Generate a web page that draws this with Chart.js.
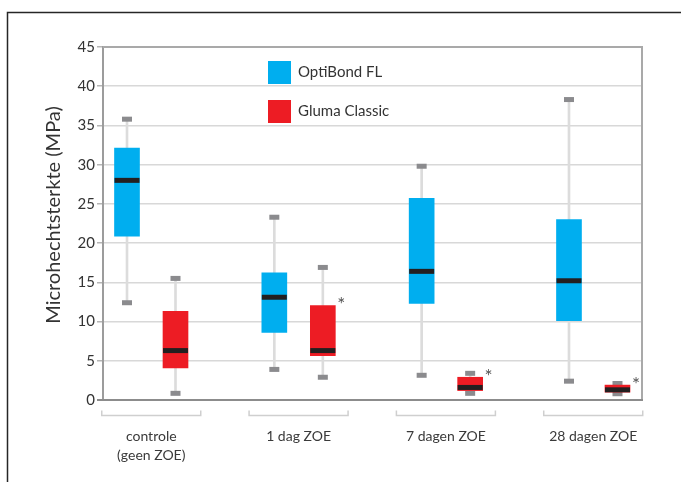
<!DOCTYPE html>
<html><head><meta charset="utf-8">
<script src="https://cdn.jsdelivr.net/npm/chart.js@4/dist/chart.umd.min.js"></script>
<style>html,body{margin:0;padding:0;background:#fff}#wrap{width:681px;height:482px;position:relative}</style>
</head><body><div id="wrap"><canvas id="c" width="681" height="482"></canvas></div>
<script>
// ---- data ----
const categories = [['controle', '(geen ZOE)'], '1 dag ZOE', '7 dagen ZOE', '28 dagen ZOE'];
const seriesNames = ['OptiBond FL', 'Gluma Classic'];
const yTickValues = [0, 5, 10, 15, 20, 25, 30, 35, 40, 45];
const yAxisTitle = 'Microhechtsterkte (MPa)';
// OptiBond FL
const optiMin = [12.4, 3.9, 3.15, 2.4];
const optiQ1 = [20.9, 8.6, 12.3, 10.1];
const optiMedian = [28.0, 13.1, 16.4, 15.2];
const optiQ3 = [32.1, 16.2, 25.7, 23.0];
const optiMax = [35.8, 23.3, 29.8, 38.3];
// Gluma Classic
const glumaMin = [0.85, 2.9, 0.85, 0.8];
const glumaQ1 = [4.1, 5.65, 1.2, 1.0];
const glumaMedian = [6.3, 6.3, 1.6, 1.3];
const glumaQ3 = [11.3, 12.05, 2.9, 1.9];
const glumaMax = [15.5, 16.9, 3.4, 2.1];
const glumaSignificant = [false, true, true, true];

// ---- styling / layout ----
const BLUE = '#00aeef', RED = '#ed1c24', MEDIAN = '#231f20', CAP = '#8b8b8e', WHISKER = '#dcdcdc';
const OFFSET = 0.1646;
const FONT = 'Lato, "Open Sans", sans-serif';

function pts(arr, off) { return arr.map((v, i) => ({ x: i + off, y: v })); }
function rng(lo, hi, off) { return lo.map((v, i) => ({ x: i + off, y: [v, hi[i]] })); }

const datasets = [
  // medians (top-most)
  { type: 'scatter', label: 'medianO', data: pts(optiMedian, -OFFSET), pointStyle: 'line', pointRadius: 12.5, pointBorderWidth: 5, pointBorderColor: MEDIAN, pointBackgroundColor: MEDIAN, order: 0 },
  { type: 'scatter', label: 'medianG', data: pts(glumaMedian, OFFSET), pointStyle: 'line', pointRadius: 12.5, pointBorderWidth: 5, pointBorderColor: MEDIAN, pointBackgroundColor: MEDIAN, order: 0 },
  // boxes
  { type: 'bar', label: seriesNames[0], data: rng(optiQ1, optiQ3, -OFFSET), backgroundColor: BLUE, barThickness: 25, grouped: false, order: 1 },
  { type: 'bar', label: seriesNames[1], data: rng(glumaQ1, glumaQ3, OFFSET), backgroundColor: RED, barThickness: 25, grouped: false, order: 1 },
  // caps
  { type: 'scatter', label: 'capsO', data: pts(optiMin, -OFFSET).concat(pts(optiMax, -OFFSET)), pointStyle: 'line', pointRadius: 5, pointBorderWidth: 5, pointBorderColor: CAP, order: 2 },
  { type: 'scatter', label: 'capsG', data: pts(glumaMin, OFFSET).concat(pts(glumaMax, OFFSET)), pointStyle: 'line', pointRadius: 5, pointBorderWidth: 5, pointBorderColor: CAP, order: 2 },
  // whiskers
  { type: 'bar', label: 'whiskO', data: rng(optiMin, optiMax, -OFFSET), backgroundColor: WHISKER, barThickness: 2, grouped: false, order: 3 },
  { type: 'bar', label: 'whiskG', data: rng(glumaMin, glumaMax, OFFSET), backgroundColor: WHISKER, barThickness: 2, grouped: false, order: 3 }
];

const decor = {
  id: 'decor',
  beforeDraw(chart) {
    const ctx = chart.ctx;
    ctx.save();
    ctx.fillStyle = '#fff';
    ctx.fillRect(0, 0, chart.width, chart.height);
    // outer frame
    ctx.strokeStyle = '#262626';
    ctx.lineWidth = 1.5;
    ctx.beginPath();
    ctx.moveTo(7.5, chart.height + 5);
    ctx.lineTo(7.5, 12.5);
    ctx.lineTo(chart.width + 5, 12.5);
    ctx.stroke();
    ctx.restore();
  },
  afterDraw(chart) {
    const ctx = chart.ctx, a = chart.chartArea, x = chart.scales.x, y = chart.scales.y;
    ctx.save();
    // plot frame top & right
    ctx.strokeStyle = '#a9a9a9';
    ctx.lineWidth = 2;
    ctx.beginPath();
    ctx.moveTo(a.left, a.top);
    ctx.lineTo(a.right, a.top);
    ctx.lineTo(a.right, a.bottom);
    ctx.stroke();
    // bottom axis line
    ctx.strokeStyle = '#8c8c8c';
    ctx.beginPath();
    ctx.moveTo(a.left - 6, a.bottom);
    ctx.lineTo(a.right + 1, a.bottom);
    ctx.stroke();
    // category brackets
    ctx.strokeStyle = '#cfcfcf';
    ctx.lineWidth = 1.5;
    categories.forEach((c, i) => {
      const l = x.getPixelForValue(i - 0.336), r = x.getPixelForValue(i + 0.336), yb = a.bottom + 15.5;
      ctx.beginPath();
      ctx.moveTo(l, yb - 5); ctx.lineTo(l, yb); ctx.lineTo(r, yb); ctx.lineTo(r, yb - 5);
      ctx.stroke();
    });
    // asterisks
    ctx.fillStyle = '#555';
    ctx.font = '19px ' + FONT;
    ctx.textAlign = 'center';
    ctx.textBaseline = 'alphabetic';
    glumaSignificant.forEach((s, i) => {
      if (!s) return;
      const px = x.getPixelForValue(i + OFFSET) + 12.5 + 6;
      const py = y.getPixelForValue(glumaQ3[i]) + 6;
      ctx.fillText('*', px, py);
    });
    // legend
    const items = [{ t: seriesNames[0], c: BLUE }, { t: seriesNames[1], c: RED }];
    ctx.textAlign = 'left';
    ctx.textBaseline = 'middle';
    ctx.font = '15px ' + FONT;
    items.forEach((it, k) => {
      const top = 61 + k * 39;
      ctx.fillStyle = it.c;
      ctx.fillRect(268, top, 23, 23);
      ctx.fillStyle = '#333';
      ctx.fillText(it.t, 298, top + 11.5);
    });
    // y axis title
    ctx.translate(53.5, 215);
    ctx.rotate(-Math.PI / 2);
    ctx.textAlign = 'center';
    ctx.textBaseline = 'middle';
    ctx.font = '20px ' + FONT;
    ctx.fillStyle = '#333';
    ctx.fillText(yAxisTitle, 0, 0);
    ctx.restore();
  }
};

new Chart(document.getElementById('c'), {
  type: 'bar',
  data: { datasets },
  plugins: [decor],
  options: {
    responsive: false,
    devicePixelRatio: 1,
    animation: false,
    events: [],
    layout: { padding: { left: 0, top: 47, right: 39, bottom: 0 } },
    plugins: { legend: { display: false }, tooltip: { enabled: false } },
    scales: {
      x: {
        type: 'linear',
        offset: false,
        min: -0.3275,
        max: 3.331,
        afterBuildTicks: s => { s.ticks = categories.map((c, i) => ({ value: i })); },
        afterFit: s => { s.height = 82; },
        grid: { display: false, drawTicks: false, offset: false },
        border: { display: false },
        ticks: {
          autoSkip: false, maxRotation: 0, padding: 27,
          color: '#3a3a3a',
          font: { family: FONT, size: 14, lineHeight: 1.36 },
          callback: v => categories[v]
        }
      },
      y: {
        type: 'linear',
        min: 0, max: 45,
        afterBuildTicks: s => { s.ticks = yTickValues.map(v => ({ value: v })); },
        afterFit: s => { s.width = 103; },
        grid: { color: '#d8d8d8', lineWidth: 1.5, tickLength: 6, tickColor: '#b5b5b5' },
        border: { color: '#9c9c9c', width: 2 },
        ticks: { color: '#333', padding: 2, font: { family: FONT, size: 15 } }
      }
    }
  }
});
</script>
</body></html>
